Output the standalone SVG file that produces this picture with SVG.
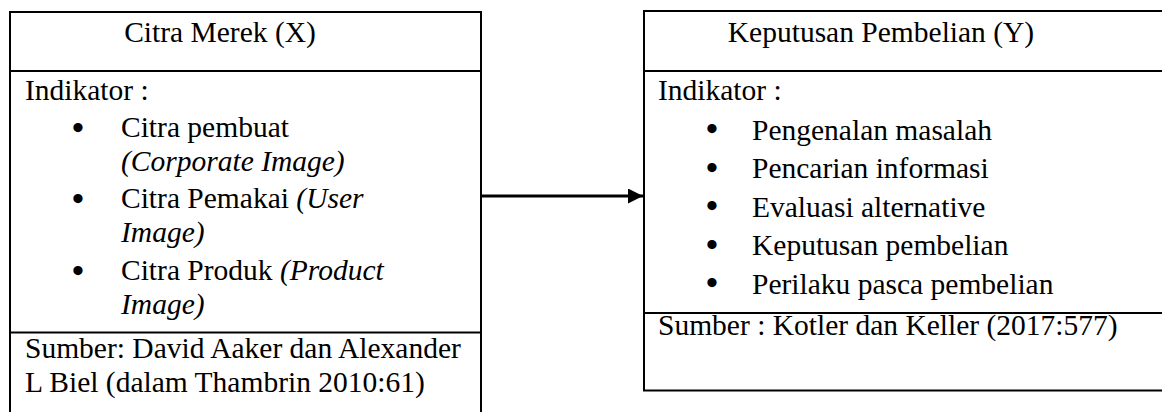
<svg xmlns="http://www.w3.org/2000/svg" width="1162" height="412" viewBox="0 0 1162 412">
<style>
.box{fill:#fff;stroke:#000;stroke-width:2}
.div{stroke:#000;stroke-width:2}
text{font-family:"Liberation Serif","Times New Roman",serif;font-size:29.5px;fill:#000}
.it{font-style:italic}
.mid{text-anchor:middle}
.bul{font-size:34px;font-weight:bold}
.conn{stroke:#000;stroke-width:3;fill:none}
</style>
<defs>
<marker id="arrow" markerUnits="userSpaceOnUse" markerWidth="16" markerHeight="16" refX="15" refY="7.5" orient="auto">
<path d="M0,0 L15,7.5 L0,15 Z" fill="#000"/>
</marker>
</defs>
<rect width="1162" height="412" fill="#fff"/>
<g id="node-x">
<rect class="box" x="10" y="12" width="471" height="420"/>
<line class="div" x1="10" y1="71" x2="481" y2="71"/>
<line class="div" x1="10" y1="332.5" x2="481" y2="332.5"/>
<text class="mid" x="220" y="42">Citra Merek (X)</text>
<text x="25" y="100">Indikator :</text>
<text class="bul" x="72" y="139">•</text>
<text x="121" y="137">Citra pembuat</text>
<text x="121" y="171" class="it">(Corporate Image)</text>
<text class="bul" x="72" y="210">•</text>
<text x="121" y="208">Citra Pemakai <tspan class="it">(User</tspan></text>
<text x="121" y="242" class="it">Image)</text>
<text class="bul" x="72" y="282">•</text>
<text x="121" y="280">Citra Produk <tspan class="it">(Product</tspan></text>
<text x="121" y="314" class="it">Image)</text>
<text x="25" y="358">Sumber: David Aaker dan Alexander</text>
<text x="25" y="392">L Biel (dalam Thambrin 2010:61)</text>
</g>
<g id="node-y">
<rect class="box" x="644" y="11" width="530" height="379.5"/>
<line class="div" x1="644" y1="71" x2="1162" y2="71"/>
<line class="div" x1="644" y1="313" x2="1162" y2="313"/>
<text class="mid" x="881" y="42">Keputusan Pembelian (Y)</text>
<text x="658" y="100">Indikator :</text>
<text class="bul" x="706" y="140">•</text>
<text x="752" y="139.5">Pengenalan masalah</text>
<text class="bul" x="706" y="178.5">•</text>
<text x="752" y="178">Pencarian informasi</text>
<text class="bul" x="706" y="217">•</text>
<text x="752" y="216.5">Evaluasi alternative</text>
<text class="bul" x="706" y="255.5">•</text>
<text x="752" y="255">Keputusan pembelian</text>
<text class="bul" x="706" y="294">•</text>
<text x="752" y="293.5">Perilaku pasca pembelian</text>
<text x="658" y="335">Sumber : Kotler dan Keller (2017:577)</text>
</g>
<g id="connectors">
<line class="conn" x1="480" y1="196" x2="643" y2="196" marker-end="url(#arrow)"/>
</g>
</svg>
